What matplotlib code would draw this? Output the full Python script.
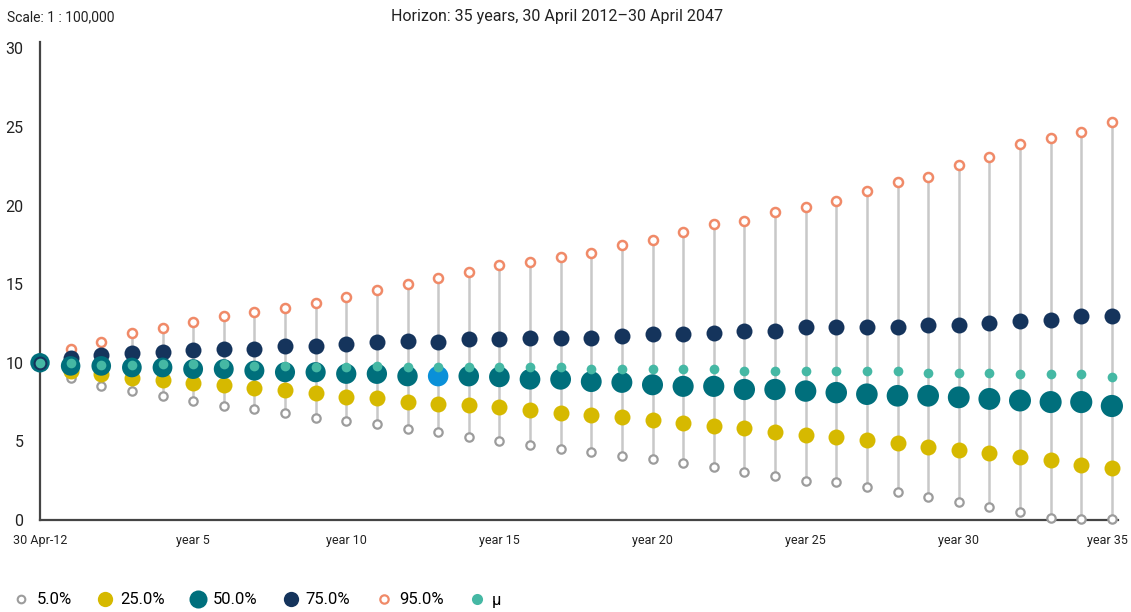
import numpy as np
import matplotlib
matplotlib.use("Agg")
import matplotlib.pyplot as plt
import matplotlib.transforms as mtransforms
from matplotlib.lines import Line2D

plt.rcParams['font.family'] = ['Liberation Sans Narrow', 'Roboto', 'DejaVu Sans']

# projection horizon, one point per year
years = list(range(36))

p5 = [10.0, 9.0, 8.5, 8.2, 7.9, 7.55, 7.25, 7.05, 6.8, 6.5, 6.3, 6.1,
      5.8, 5.6, 5.25, 5.05, 4.8, 4.5, 4.3, 4.1, 3.85, 3.65, 3.35, 3.05,
      2.8, 2.5, 2.4, 2.1, 1.75, 1.45, 1.15, 0.8, 0.5, 0.15, 0.05, 0.05]
p25 = [10.0, 9.5, 9.3, 9.0, 8.9, 8.7, 8.6, 8.4, 8.25, 8.05, 7.85, 7.75,
       7.5, 7.4, 7.3, 7.2, 7.0, 6.8, 6.7, 6.55, 6.35, 6.2, 6.0, 5.85,
       5.6, 5.4, 5.3, 5.1, 4.9, 4.65, 4.45, 4.25, 4.0, 3.8, 3.5, 3.3]
p50 = [10.0, 9.8, 9.8, 9.7, 9.7, 9.6, 9.6, 9.5, 9.4, 9.4, 9.3, 9.3,
       9.15, 9.15, 9.15, 9.1, 8.95, 8.95, 8.8, 8.75, 8.6, 8.5, 8.5, 8.3,
       8.3, 8.2, 8.1, 8.0, 7.9, 7.9, 7.8, 7.7, 7.6, 7.5, 7.5, 7.25]
p75 = [10.0, 10.3, 10.5, 10.6, 10.7, 10.8, 10.85, 10.85, 11.05, 11.05, 11.2, 11.3,
       11.4, 11.3, 11.5, 11.5, 11.6, 11.6, 11.6, 11.7, 11.8, 11.8, 11.9, 12.0,
       12.0, 12.25, 12.25, 12.25, 12.3, 12.4, 12.4, 12.55, 12.65, 12.75, 12.95, 12.95]
p95 = [10.0, 10.9, 11.3, 11.9, 12.2, 12.6, 13.0, 13.2, 13.5, 13.8, 14.2, 14.6,
       15.0, 15.4, 15.75, 16.2, 16.4, 16.7, 17.0, 17.5, 17.8, 18.3, 18.8, 19.0,
       19.6, 19.9, 20.3, 20.9, 21.5, 21.8, 22.6, 23.1, 23.9, 24.3, 24.7, 25.3]
mu = [10.0, 10.0, 9.85, 9.85, 9.9, 9.9, 9.9, 9.8, 9.8, 9.75, 9.75, 9.8,
      9.7, 9.7, 9.7, 9.7, 9.7, 9.7, 9.6, 9.6, 9.6, 9.6, 9.6, 9.5,
      9.5, 9.5, 9.5, 9.5, 9.5, 9.35, 9.35, 9.35, 9.3, 9.3, 9.3, 9.1]

highlight_year = 13
tick_pos = [0, 5, 10, 15, 20, 25, 30, 35]
tick_labels = ['30 Apr-12', 'year 5', 'year 10', 'year 15', 'year 20',
               'year 25', 'year 30', 'year 35']

c_gray = '#9c9c9c'
c_yellow = '#d6b900'
c_teal = '#006f7c'
c_navy = '#15345c'
c_orange = '#f08a68'
c_mu = '#45b8a4'
c_blue = '#0a90d8'
c_stem = '#c8c8c8'

fig = plt.figure(figsize=(11.31, 6.12), dpi=100)
ax = fig.add_axes([40 / 1131, 92 / 612, 1078 / 1131, 478 / 612])

x = np.array(years)
ax.vlines(x, p5, p95, colors=c_stem, linewidth=1.8, zorder=1)

ring = dict(linestyle='none', marker='o', markerfacecolor='white', clip_on=False)
ax.plot(x, p5, markeredgecolor=c_gray, markersize=6, markeredgewidth=1.6, zorder=2, **ring)
ax.plot(x, p95, markeredgecolor=c_orange, markersize=6.5, markeredgewidth=1.8, zorder=2, **ring)

ax.plot(x, p25, 'o', color=c_yellow, markersize=11.5, markeredgewidth=0, zorder=3, clip_on=False)
ax.plot(x, p75, 'o', color=c_navy, markersize=11.5, markeredgewidth=0, zorder=3, clip_on=False)

sizes50 = np.linspace(14, 16, len(years))
cols50 = [c_blue if y == highlight_year else c_teal for y in years]
ax.scatter(x, p50, s=sizes50 ** 2, c=cols50, linewidths=0, zorder=4, clip_on=False)

# start point: the 75% dot sits on top of the 50% dot
ax.plot(x[:1], p75[:1], 'o', color=c_navy, markersize=10, markeredgewidth=0, zorder=5, clip_on=False)
ax.plot(x, mu, 'o', color=c_mu, markersize=7, markeredgewidth=0, zorder=6, clip_on=False)

ax.set_xlim(0, 35.2)
ax.set_ylim(0, 30.4)
ax.set_yticks([0, 5, 10, 15, 20, 25, 30])
ax.set_xticks(tick_pos)
ax.set_xticklabels(tick_labels)
ax.tick_params(axis='y', length=0, pad=12, labelsize=11.5, colors='#222222')
ax.tick_params(axis='x', length=0, pad=10, labelsize=9, colors='#222222')
last = ax.get_xticklabels()[-1]
last.set_transform(last.get_transform() + mtransforms.ScaledTranslation(-4 / 100, 0, fig.dpi_scale_trans))
for side in ['top', 'right']:
    ax.spines[side].set_visible(False)
for side in ['left', 'bottom']:
    ax.spines[side].set_color('#444444')
    ax.spines[side].set_linewidth(1.6)
    ax.spines[side].set_zorder(1.5)

fig.text(7 / 1131, 1 - 17 / 612, 'Scale: 1 : 100,000', fontsize=10, va='center', ha='left', color='#222222')
fig.text(557 / 1131, 1 - 17 / 612, 'Horizon: 35 years, 30 April 2012\u201330 April 2047',
         fontsize=11.5, va='center', ha='center', color='#222222')

handles = [
    Line2D([], [], linestyle='none', marker='o', markerfacecolor='white', markeredgecolor=c_gray, markersize=5.5, markeredgewidth=1.5),
    Line2D([], [], linestyle='none', marker='o', color=c_yellow, markersize=11, markeredgewidth=0),
    Line2D([], [], linestyle='none', marker='o', color=c_teal, markersize=13, markeredgewidth=0),
    Line2D([], [], linestyle='none', marker='o', color=c_navy, markersize=11, markeredgewidth=0),
    Line2D([], [], linestyle='none', marker='o', markerfacecolor='white', markeredgecolor=c_orange, markersize=6, markeredgewidth=1.6),
    Line2D([], [], linestyle='none', marker='o', color=c_mu, markersize=8, markeredgewidth=0),
]
labels = ['5.0%', '25.0%', '50.0%', '75.0%', '95.0%', '\u03bc']
fig.legend(handles, labels, loc='center left', bbox_to_anchor=(13 / 1131, 1 - 600 / 612),
           ncol=6, frameon=False, fontsize=12, handlelength=1.0, handletextpad=0.4,
           columnspacing=1.5, borderaxespad=0, borderpad=0)

fig.savefig('out.png', dpi=100)
